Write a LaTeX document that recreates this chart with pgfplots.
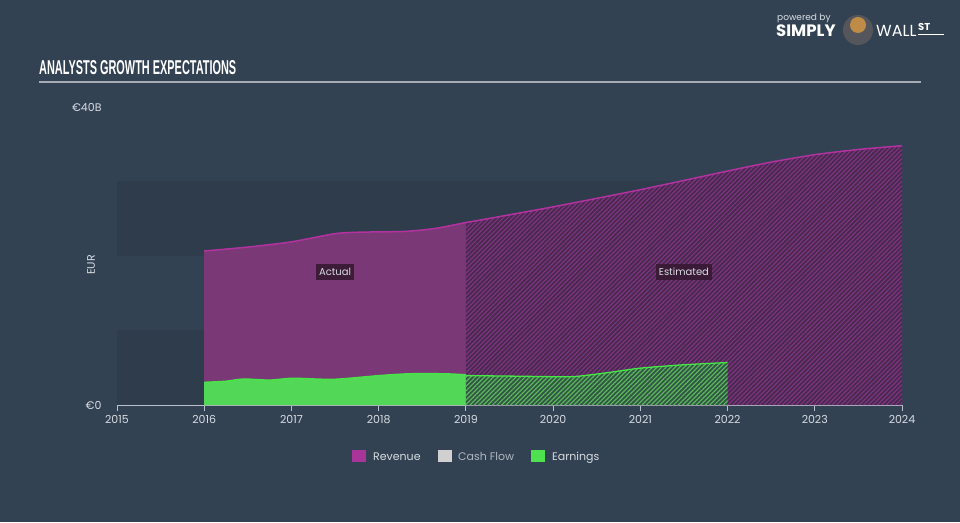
\documentclass[border=0pt]{standalone}
\usepackage{pgfplots}
\pgfplotsset{compat=1.18}
\usetikzlibrary{patterns.meta}
\usepackage{fontspec}
\setmainfont{Poppins}
\newfontfamily\titlefont{Liberation Sans}

\definecolor{bg}{RGB}{51,66,83}
\definecolor{band}{RGB}{47,60,76}
\definecolor{revfill}{RGB}{123,56,118}
\definecolor{revline}{RGB}{178,50,160}
\definecolor{revestbase}{RGB}{70,42,80}
\definecolor{revestline}{RGB}{130,50,126}
\definecolor{earnfill}{RGB}{82,216,86}
\definecolor{earnline}{RGB}{70,230,70}
\definecolor{earnestbase}{RGB}{50,85,70}
\definecolor{earnestline}{RGB}{90,185,90}
\definecolor{axiscol}{RGB}{185,194,204}
\definecolor{labcol}{RGB}{215,220,225}
\definecolor{cfcol}{RGB}{175,182,190}
\definecolor{titleline}{RGB}{165,172,180}
\definecolor{boxcol}{RGB}{55,25,52}
\definecolor{suit}{RGB}{85,85,92}
\definecolor{bull}{RGB}{190,140,70}
\definecolor{legrev}{RGB}{168,53,154}
\definecolor{legcf}{RGB}{208,208,208}
\definecolor{legearn}{RGB}{78,226,78}

\begin{document}
\begin{tikzpicture}
\begin{scope}[x=1pt,y=1pt]
\fill[bg] (0,0) rectangle (960,522);
% title
\node[anchor=base west, inner sep=0, text=white] at (39,447) {\resizebox{197pt}{14pt}{\titlefont\bfseries ANALYSTS GROWTH EXPECTATIONS}};
\draw[titleline, line width=1.5pt] (39,440) -- (921,440);
% logo
\node[anchor=base west, inner sep=0, text=labcol, font=\fontsize{9}{9}\selectfont] at (777,501) {powered by};
\node[anchor=base west, inner sep=0, text=white, font=\fontsize{16.5}{16}\selectfont\bfseries] at (776,485) {SIMPLY};
\fill[suit] (858,492) circle (15);
\fill[bull] (858,497) circle (8);
\node[anchor=base west, inner sep=0, text=white, font=\fontsize{16}{16}\selectfont] at (876,485) {WALL};
\node[anchor=base west, inner sep=0, text=white, font=\fontsize{10}{10}\selectfont\bfseries] at (918,491) {ST};
\draw[white, line width=1pt] (918,487) -- (944,487);
% EUR
\node[rotate=90, text=labcol, font=\fontsize{11}{11}\selectfont] at (91,257) {EUR};
% legend
\fill[legrev] (352,60) rectangle (366,72);
\node[anchor=base west, inner sep=0, text=labcol, font=\fontsize{11}{11}\selectfont] at (373,62) {Revenue};
\fill[legcf] (438,60) rectangle (452,72);
\node[anchor=base west, inner sep=0, text=cfcol, font=\fontsize{11}{11}\selectfont] at (458,62) {Cash Flow};
\fill[legearn] (531,60) rectangle (545,72);
\node[anchor=base west, inner sep=0, text=labcol, font=\fontsize{11}{11}\selectfont] at (552,62) {Earnings};
\end{scope}
\begin{axis}[
  at={(117pt,117pt)}, anchor=south west, scale only axis,
  width=785pt, height=298pt,
  xmin=2015, xmax=2024, ymin=0, ymax=40,
  axis x line=bottom, axis y line=left,
  axis line style={-},
  x axis line style={draw=axiscol, line width=1pt},
  y axis line style={draw=none},
  xtick={2015,2016,2017,2018,2019,2020,2021,2022,2023,2024},
  xticklabels={2015,2016,2017,2018,2019,2020,2021,2022,2023,2024},
  ytick={0,40},
  yticklabels={€0,€40B},
  tick align=outside,
  x tick style={draw=axiscol, line width=1pt},
  y tick style={draw=none},
  major tick length=6pt,
  ticklabel style={text=labcol, font=\fontsize{11}{11}\selectfont},
  xticklabel style={yshift=-1pt},
  yticklabel style={xshift=-6pt},
  clip=false,
]
% bands
\fill[band] (axis cs:2015,0) rectangle (axis cs:2024,10);
\fill[band] (axis cs:2015,20) rectangle (axis cs:2024,30);

% revenue actual
\addplot[fill=revfill, draw=none, smooth, tension=0.4] coordinates {
(2016,20.67) (2016.5,21.2) (2017,21.9) (2017.5,23.0) (2017.8,23.2) (2018.3,23.3) (2018.65,23.7) (2019,24.5)
} \closedcycle;
% revenue estimated
\addplot[fill=revestbase, draw=none, smooth, tension=0.4] coordinates {
(2019,24.5) (2019.2,24.9) (2020,26.6) (2021,28.9) (2022,31.4) (2022.5,32.6) (2023,33.6) (2023.5,34.3) (2024,34.8)
} \closedcycle;
\addplot[pattern={Lines[angle=45,distance=3.2pt,line width=1.2pt]}, pattern color=revestline, draw=none, smooth, tension=0.4] coordinates {
(2019,24.5) (2019.2,24.9) (2020,26.6) (2021,28.9) (2022,31.4) (2022.5,32.6) (2023,33.6) (2023.5,34.3) (2024,34.8)
} \closedcycle;
% earnings actual
\addplot[fill=earnfill, draw=none, smooth, tension=0.4] coordinates {
(2016,3.05) (2016.25,3.2) (2016.45,3.5) (2016.75,3.35) (2017.02,3.6) (2017.48,3.45) (2018,3.95) (2018.35,4.2) (2018.75,4.2) (2019,4.07)
} \closedcycle;
% earnings estimated
\addplot[fill=earnestbase, draw=none, smooth, tension=0.4] coordinates {
(2019,3.95) (2019.5,3.88) (2020,3.8) (2020.25,3.82) (2020.6,4.3) (2021,4.95) (2021.5,5.4) (2022,5.7)
} \closedcycle;
\addplot[pattern={Lines[angle=45,distance=3.2pt,line width=1.2pt]}, pattern color=earnestline, draw=none, smooth, tension=0.4] coordinates {
(2019,3.95) (2019.5,3.88) (2020,3.8) (2020.25,3.82) (2020.6,4.3) (2021,4.95) (2021.5,5.4) (2022,5.7)
} \closedcycle;
% lines
\addplot[revline, line width=1.5pt, smooth, tension=0.4] coordinates {
(2016,20.67) (2016.5,21.2) (2017,21.9) (2017.5,23.0) (2017.8,23.2) (2018.3,23.3) (2018.65,23.7) (2019,24.5)
};
\addplot[revline, line width=1.5pt, smooth, tension=0.4] coordinates {
(2019,24.5) (2019.2,24.9) (2020,26.6) (2021,28.9) (2022,31.4) (2022.5,32.6) (2023,33.6) (2023.5,34.3) (2024,34.8)
};
\addplot[earnline, line width=1.3pt, smooth, tension=0.4] coordinates {
(2016,3.05) (2016.25,3.2) (2016.45,3.5) (2016.75,3.35) (2017.02,3.6) (2017.48,3.45) (2018,3.95) (2018.35,4.2) (2018.75,4.2) (2019,4.07)
};
\addplot[earnline, line width=1.3pt, smooth, tension=0.4] coordinates {
(2019,3.95) (2019.5,3.88) (2020,3.8) (2020.25,3.82) (2020.6,4.3) (2021,4.95) (2021.5,5.4) (2022,5.7)
};
% labels
\node[fill=boxcol, fill opacity=0.9, text opacity=1, text=labcol, font=\fontsize{10}{10}\selectfont, inner xsep=3pt, inner ysep=4pt] at (axis cs:2017.5,17.85) {Actual};
\node[fill=boxcol, fill opacity=0.9, text opacity=1, text=labcol, font=\fontsize{10}{10}\selectfont, inner xsep=3pt, inner ysep=4pt] at (axis cs:2021.5,17.85) {Estimated};
\end{axis}
\end{tikzpicture}
\end{document}
